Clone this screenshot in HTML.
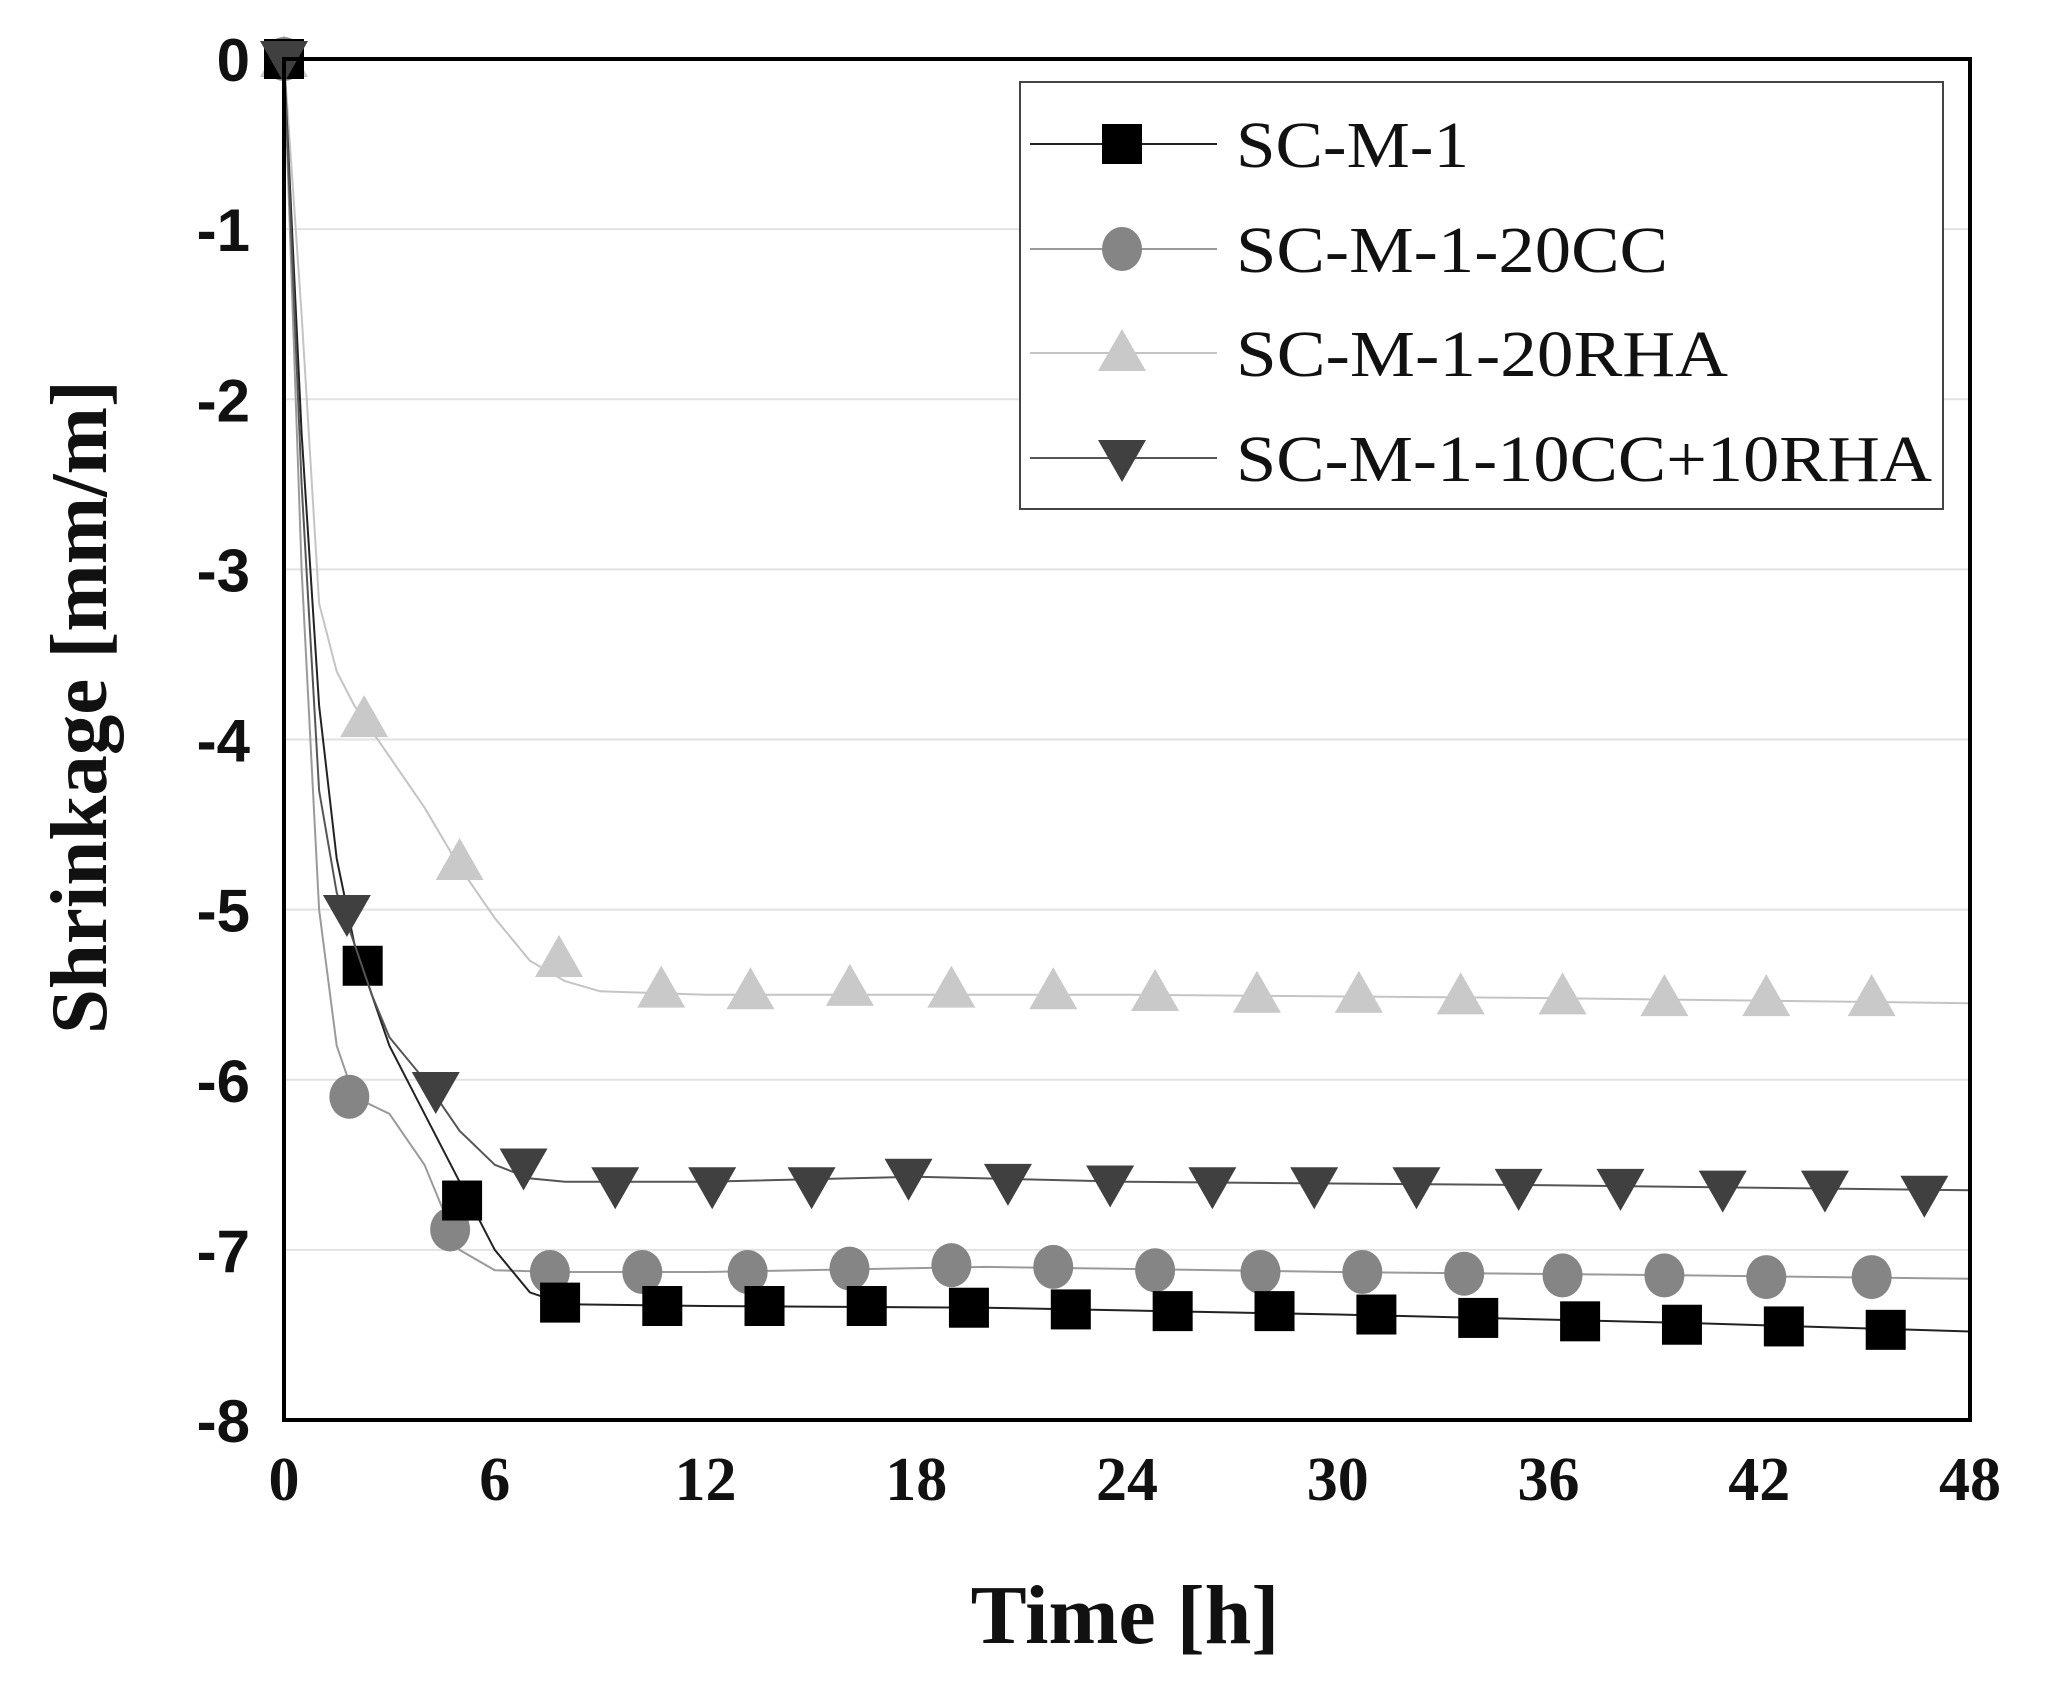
<!DOCTYPE html>
<html><head><meta charset="utf-8"><style>
html,body{margin:0;padding:0;background:#fff;}
svg{display:block;}
</style></head><body>
<svg id="chart" width="2051" height="1685" viewBox="0 0 2051 1685" xmlns="http://www.w3.org/2000/svg"></svg>
<script>
// ---- data ----
const yTicks = [0,-1,-2,-3,-4,-5,-6,-7,-8];
const xTicks = [0,6,12,18,24,30,36,42,48];
const seriesNames = ["SC-M-1","SC-M-1-20CC","SC-M-1-20RHA","SC-M-1-10CC+10RHA"];
// continuous curves
const lineT_m1 = [0,0.5,1,1.5,2,2.5,3,4,5,6,7,8,12,20,30,40,48];
const lineV_m1 = [0,-2.2,-3.8,-4.7,-5.2,-5.5,-5.8,-6.2,-6.6,-7.0,-7.25,-7.32,-7.33,-7.34,-7.38,-7.43,-7.48];
const lineT_cc = [0,0.5,1,1.5,2,3,4,5,6,8,12,20,30,40,48];
const lineV_cc = [0,-3.0,-5.0,-5.8,-6.1,-6.2,-6.5,-7.0,-7.12,-7.13,-7.13,-7.10,-7.13,-7.15,-7.17];
const lineT_rha = [0,0.5,1,1.5,2,3,4,5,6,7,8,9,12,24,36,48];
const lineV_rha = [0,-1.5,-3.2,-3.6,-3.8,-4.1,-4.4,-4.75,-5.05,-5.3,-5.42,-5.48,-5.5,-5.5,-5.52,-5.55];
const lineT_mix = [0,0.5,1,1.5,2,2.5,3,4,5,6,7,8,12,18,24,36,48];
const lineV_mix = [0,-2.5,-4.3,-4.9,-5.2,-5.5,-5.75,-6.0,-6.3,-6.5,-6.58,-6.6,-6.6,-6.57,-6.6,-6.62,-6.65];
// markers
const mkT_m1 = [0,2.24,5.07,7.86,10.77,13.68,16.59,19.5,22.4,25.3,28.2,31.1,34.0,36.9,39.8,42.7,45.6];
const mkV_m1 = [0,-5.33,-6.71,-7.31,-7.33,-7.33,-7.33,-7.34,-7.35,-7.36,-7.36,-7.38,-7.40,-7.42,-7.44,-7.45,-7.47];
const mkT_cc = [0,1.86,4.73,7.57,10.2,13.2,16.1,19.0,21.9,24.8,27.8,30.7,33.6,36.4,39.3,42.2,45.2];
const mkV_cc = [0,-6.10,-6.88,-7.13,-7.13,-7.13,-7.11,-7.09,-7.10,-7.12,-7.13,-7.13,-7.14,-7.15,-7.15,-7.16,-7.16];
const mkT_rha = [0,2.28,5.0,7.83,10.74,13.28,16.11,19.0,21.9,24.8,27.7,30.6,33.5,36.4,39.3,42.2,45.2];
const mkV_rha = [0,-3.88,-4.72,-5.29,-5.47,-5.48,-5.46,-5.47,-5.48,-5.49,-5.50,-5.50,-5.51,-5.51,-5.52,-5.52,-5.52];
const mkT_mix = [0,1.79,4.32,6.82,9.43,12.19,15.02,17.78,20.61,23.52,26.43,29.33,32.24,35.15,38.05,40.96,43.87,46.70];
const mkV_mix = [0,-5.02,-6.06,-6.51,-6.62,-6.62,-6.62,-6.57,-6.60,-6.61,-6.62,-6.62,-6.62,-6.63,-6.63,-6.64,-6.64,-6.67];

// ---- layout ----
const L=284, R=1970, T=59, B=1420;
const xS = t => L + (t-0)/(48-0)*(R-L);
const yS = v => T + (0-v)/(0-(-8))*(B-T);
const NS="http://www.w3.org/2000/svg";
const svg=document.getElementById('chart');
function mk(tag, attrs, parent){const e=document.createElementNS(NS,tag);for(const k in attrs)e.setAttribute(k,attrs[k]);(parent||svg).appendChild(e);return e;}

// gridlines
const grid=mk('g',{});


yTicks.forEach(v=>{ if(v===0||v===-8) return;
  const l=mk('line',{x1:L,x2:R,y1:yS(v),y2:yS(v),stroke:'#e2e2e2','stroke-width':2},grid);
  
  
});
// y tick labels
yTicks.forEach(v=>{
  const t=mk('text',{x:250,y:yS(v)+22,'text-anchor':'end','font-family':'"Liberation Sans",sans-serif','font-weight':'bold','font-size':60,fill:'#111'});
  t.textContent=String(v);
  
  
});
// x tick labels
xTicks.forEach(v=>{
  const t=mk('text',{x:xS(v),y:1500,'text-anchor':'middle','font-family':'"Liberation Serif",serif','font-weight':'bold','font-size':62,fill:'#111'});
  t.textContent=String(v);
  
  
});
// axis titles
const xt=mk('text',{x:1125,y:1643,'text-anchor':'middle','font-family':'"Liberation Serif",serif','font-weight':'bold','font-size':84,fill:'#111'});
xt.textContent='Time [h]';


const yt=mk('text',{x:0,y:0,'text-anchor':'middle','font-family':'"Liberation Serif",serif','font-weight':'bold','font-size':80,fill:'#111',transform:'translate(106,707) rotate(-90)',textLength:654,lengthAdjust:'spacingAndGlyphs'});
yt.textContent='Shrinkage [mm/m]';



// series
function path(ts,vs){return ts.map((t,i)=>(i?'L':'M')+xS(t).toFixed(1)+' '+yS(vs[i]).toFixed(1)).join(' ');}
function marker(kind,x,y,fill,parent){
  let e;
  if(kind==='square') e=mk('rect',{x:x-20,y:y-20,width:40,height:40,fill:fill},parent);
  else if(kind==='circle') e=mk('ellipse',{cx:x,cy:y,rx:20,ry:22,fill:fill},parent);
  else if(kind==='up') e=mk('polygon',{points:`${x},${y-24} ${x+24},${y+18} ${x-24},${y+18}`,fill:fill},parent);
  else e=mk('polygon',{points:`${x-24},${y-18} ${x+24},${y-18} ${x},${y+24}`,fill:fill},parent);
  return e;
}
const series=[
  {lt:lineT_rha,lv:lineV_rha,mt:mkT_rha,mv:mkV_rha,kind:'up',fill:'#c9c9c9',stroke:'#c4c4c4',name:'series-sc-m-1-20rha'},
  {lt:lineT_cc,lv:lineV_cc,mt:mkT_cc,mv:mkV_cc,kind:'circle',fill:'#858585',stroke:'#9a9a9a',name:'series-sc-m-1-20cc'},
  {lt:lineT_m1,lv:lineV_m1,mt:mkT_m1,mv:mkV_m1,kind:'square',fill:'#000',stroke:'#222',name:'series-sc-m-1'},
  {lt:lineT_mix,lv:lineV_mix,mt:mkT_mix,mv:mkV_mix,kind:'down',fill:'#404040',stroke:'#555',name:'series-sc-m-1-10cc-10rha'}
];
series.forEach(s=>{
  const g=mk('g',{});
  
  
  const p=mk('path',{d:path(s.lt,s.lv),fill:'none',stroke:s.stroke,'stroke-width':2},g);
  
  
  s.mt.forEach((t,i)=>{
    const m=marker(s.kind,xS(t),yS(s.mv[i]),s.fill,g);
    
    
  });
});

// frame
const fr=mk('rect',{x:L,y:T,width:R-L,height:B-T,fill:'none',stroke:'#000','stroke-width':4});



// legend
const lg=mk('g',{});


const lb=mk('rect',{x:1020,y:82,width:923,height:427,fill:'#fff',stroke:'#444','stroke-width':2},lg);


const legRows=[
  {name:seriesNames[0],kind:'square',fill:'#000',stroke:'#222',y:144},
  {name:seriesNames[1],kind:'circle',fill:'#858585',stroke:'#9a9a9a',y:249},
  {name:seriesNames[2],kind:'up',fill:'#c9c9c9',stroke:'#c4c4c4',y:353},
  {name:seriesNames[3],kind:'down',fill:'#404040',stroke:'#555',y:458}
];
const legW=[233,432,492,696];
legRows.forEach((r,i)=>{
  const g=mk('g',{},lg);
  
  
  mk('line',{x1:1030,x2:1217,y1:r.y,y2:r.y,stroke:r.stroke,'stroke-width':2},g);
  marker(r.kind,1122,r.y,r.fill,g);
  const t=mk('text',{x:1236,y:r.y+23,'font-family':'"Liberation Serif",serif','font-size':66,fill:'#111',textLength:legW[i],lengthAdjust:'spacingAndGlyphs'},g);
  t.textContent=r.name;
});
</script>
</body></html>
